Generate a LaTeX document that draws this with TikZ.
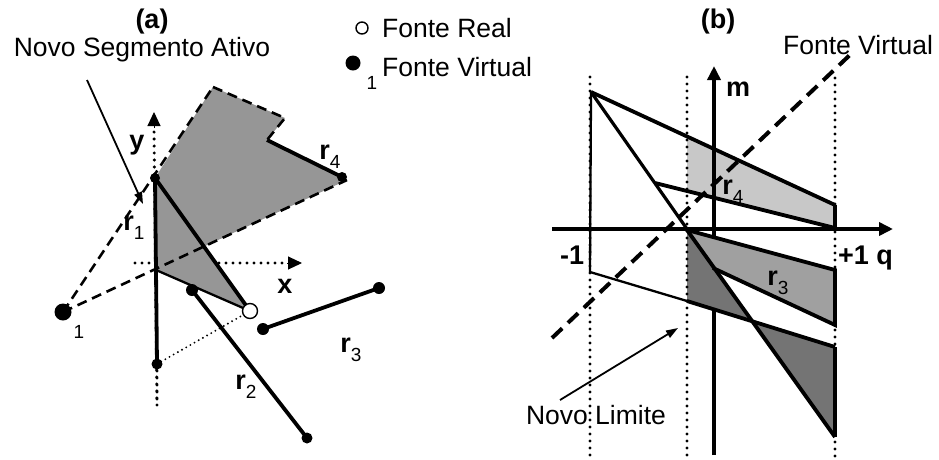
\documentclass[tikz,border=0pt]{standalone}
\usepackage{fontspec}
\setmainfont{Liberation Sans}
\usetikzlibrary{arrows.meta}
\definecolor{grayA}{RGB}{150,150,150}
\definecolor{grayL}{RGB}{200,200,200}
\definecolor{grayM}{RGB}{160,160,160}
\definecolor{grayD}{RGB}{116,116,116}
\tikzset{
  thickln/.style={line width=3.8pt},
  thinln/.style={line width=2.3pt},
  dashln/.style={line width=2.6pt, dash pattern=on 10pt off 6pt},
  bigdash/.style={line width=4pt, dash pattern=on 14pt off 8pt},
  dotln/.style={line width=3.4pt, line cap=round, dash pattern=on 0pt off 7pt},
  finedot/.style={line width=2.1pt, line cap=round, dash pattern=on 0pt off 4.8pt},
  txt/.style={font=\fontsize{26.5}{30}\selectfont, inner sep=0pt},
  btxt/.style={font=\fontsize{27}{30}\selectfont\bfseries, inner sep=0pt},
  subtxt/.style={font=\fontsize{19}{20}\selectfont, inner sep=0pt},
  dotpt/.style={circle, fill=black, inner sep=0pt, minimum size=#1},
  axisarrow/.style={-{Triangle[length=14pt,width=13pt]}},
  ptr/.style={line width=1.8pt, -{Triangle[length=12pt,width=8pt]}},
}
\newcommand{\rlab}[1]{r\raisebox{-0.32em}{\fontsize{19}{19}\selectfont\mdseries #1}}
\begin{document}
\begin{tikzpicture}[x=1pt,y=-1pt]
\useasboundingbox (0,0) rectangle (939,459);
% ---------------- panel (a) ----------------
\coordinate (VS) at (63,312);
\coordinate (R1T) at (155,178);
\coordinate (R1B) at (157,364);
\coordinate (PT) at (213,87);
\coordinate (PR) at (285,118);
\coordinate (PN) at (267,140);
\coordinate (R4E) at (342,177);
\coordinate (PTIP) at (347,180);
\coordinate (O) at (156,270);
\coordinate (RS) at (250,311);
\coordinate (P) at (203,247);
\coordinate (R2A) at (192,290);
\coordinate (R2B) at (307,438);
\coordinate (R3A) at (263,329);
\coordinate (R3B) at (379,288);
\coordinate (YB) at (157,405);
\coordinate (YT) at (154,128);
\coordinate (YA) at (154,112);
\coordinate (XL) at (135,263);
\coordinate (XR) at (287,263);
\coordinate (XA) at (302,263);
% axes
\draw[dotln] (YB) -- (YT);
\draw[axisarrow, line width=1pt] (YT) -- (YA);
\draw[dotln] (XL) -- (XR);
\draw[axisarrow, line width=1pt] (XR) -- (XA);
% gray region
\fill[grayA] (R1T) -- (PT) -- (PR) -- (PN) -- (PTIP) -- (P) -- (RS) -- (O) -- cycle;
% dashed edges
\draw[dashln] (VS) -- (PT);
\draw[dashln] (VS) -- (PTIP);
\draw[dashln] (PT) -- (PR) -- (PN);
% solid segments
\draw[thickln] (R1T) -- (R1B);
\draw[thickln] (R1T) -- (RS);
\draw[thinln] (O) -- (RS);
\draw[thickln] (PN) -- (R4E);
\draw[thickln] (R2A) -- (R2B);
\draw[thickln] (R3A) -- (R3B);
\draw[finedot] (R1B) -- (RS);
\draw[dotln] (R1B) -- (YB);
% points
\node[dotpt=17pt] (vsd) at (VS) {};
\node[dotpt=10pt] (r1t) at (R1T) {};
\node[dotpt=11pt] (r1b) at (R1B) {};
\node[dotpt=10pt] (r4e) at (R4E) {};
\node[dotpt=12pt] (r2a) at (R2A) {};
\node[dotpt=11pt] (r2b) at (R2B) {};
\node[dotpt=12pt] (r3a) at (R3A) {};
\node[dotpt=12pt] (r3b) at (R3B) {};
\node[circle, draw=black, fill=white, line width=1.4pt, inner sep=0pt, minimum size=15pt] (rsc) at (RS) {};
% labels
\node[btxt] (la) at (152,22) {(a)};
\node[txt] (nsa) at (142,50) {Novo Segmento Ativo};
\coordinate (NSA1) at (87,80);
\coordinate (NSA2) at (143,204);
\draw[ptr] (NSA1) -- (NSA2);
\node[btxt] (ly) at (137,145) {y};
\node[btxt] (lx) at (285,286) {x};
\node[btxt] (lr1) at (134,228) {\rlab{1}};
\node[btxt] (lr4) at (330,157) {\rlab{4}};
\node[btxt] (lr2) at (246,387) {\rlab{2}};
\node[btxt] (lr3) at (351,350) {\rlab{3}};
\node[subtxt] (l1) at (79,332) {1};
% legend
\node[circle, draw=black, line width=1.4pt, inner sep=0pt, minimum size=12pt] (lgo) at (362,28) {};
\node[txt, anchor=west] (lgr) at (382,28) {Fonte Real};
\node[dotpt=15pt] (lgf) at (353,63) {};
\node[subtxt] (lg1) at (372,83) {1};
\node[txt, anchor=west] (lgv) at (382,67) {Fonte Virtual};
% ---------------- panel (b) ----------------
\coordinate (V) at (591,92);
\coordinate (VB) at (590,272);
\coordinate (Q1) at (687,230);
\coordinate (LD) at (687,301);
\coordinate (T5) at (835,205);
\coordinate (T6) at (835,228);
\coordinate (R4L) at (655,183);
\coordinate (A1) at (687,137);
\coordinate (A2) at (687,191);
\coordinate (B1) at (835,270);
\coordinate (B2) at (835,325);
\coordinate (B3) at (713,268);
\coordinate (C1) at (835,347);
\coordinate (C2) at (835,437);
\coordinate (DG) at (687,229);
% r4 region
\fill[grayL] (A1) -- (T5) -- (T6) -- (A2) -- cycle;
% axes
\draw[axisarrow, line width=3.8pt] (552,229) coordinate (QL) -- (893,229) coordinate (QR);
\draw[axisarrow, line width=3.8pt] (714,455) coordinate (MB) -- (714,66) coordinate (MT);
% r3 and lower regions
\fill[grayM] (Q1) -- (B1) -- (B2) -- (B3) -- cycle;
\fill[grayD] (Q1) -- (LD) -- (C1) -- (C2) -- cycle;
% dotted limits
\draw[dotln] (590,77) coordinate (D1T) -- (590,460) coordinate (D1B);
\draw[dotln] (687,77) coordinate (D2T) -- (687,460) coordinate (D2B);
\draw[dotln] (835,78) coordinate (D3T) -- (835,460) coordinate (D3B);
% lines
\draw[thinln] (V) -- (VB);
\draw[thinln] (VB) -- (LD);
\draw[thickln] (LD) -- (C1);
\draw[thickln] (V) -- (T5);
\draw[line width=3.2pt] (V) -- (DG);
\draw[thickln] (Q1) -- (C2);
\draw[thickln] (R4L) -- (T6);
\draw[thickln] (T5) -- (T6);
\draw[thickln] (Q1) -- (B1) -- (B2) -- (B3);
\draw[thickln] (C1) -- (C2);
% virtual source line
\draw[bigdash] (552,338) coordinate (FV1) -- (853,52) coordinate (FV2);
% labels
\node[btxt] (lb) at (718,22) {(b)};
\node[txt] (lfv) at (858,45) {Fonte Virtual};
\node[btxt] (lm) at (738,89) {m};
\node[btxt, anchor=base west] (lm1) at (560,264) {-1};
\node[btxt, anchor=base west] (lp1) at (838,264) {+1 q};
\node[btxt] (lbr4) at (733,192) {\rlab{4}};
\node[btxt] (lbr3) at (778,283) {\rlab{3}};
\node[txt] (lnl) at (596,415) {Novo Limite};
\coordinate (NL1) at (560,400);
\coordinate (NL2) at (678,328);
\draw[ptr] (NL1) -- (NL2);
\end{tikzpicture}
\end{document}
